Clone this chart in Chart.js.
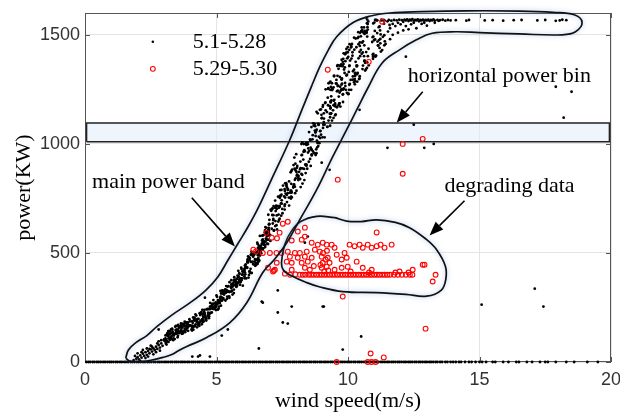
<!DOCTYPE html>
<html>
<head>
<meta charset="utf-8">
<script src="https://cdn.jsdelivr.net/npm/chart.js@4.4.0/dist/chart.umd.min.js"></script>
<style>
  html, body { margin: 0; padding: 0; background: #fff; }
  #wrap { width: 620px; height: 414px; }
</style>
</head>
<body>
<div id="wrap"><canvas id="powerChart" width="620" height="414"></canvas></div>
<script>
// Axes
const xTicks = [0, 5, 10, 15, 20];
const yTicks = [0, 500, 1000, 1500];
const seriesNames = ['5.1-5.28', '5.29-5.30'];

// 5.1-5.28 : wind speed (m/s), power (KW)
const bandLow = [[1.85,8],[1.95,15],[2.0,22],[2.05,12],[2.1,30],[2.15,20],[2.2,38],[2.25,28],[2.3,45],[2.35,33],
  [2.4,50],[2.45,40],[2.5,58],[2.55,48],[2.6,62],[2.65,55],[2.7,70],[2.75,60],[2.8,78],[2.85,66],[2.9,85],[2.95,74],
  [2.2,55],[2.5,75],[2.8,95],[2.4,25],[2.7,45],[2.1,5],[2.6,35],[2.9,100],[2.35,62],[3.1,80],[2.0,40],[2.3,18],
  [2.55,70],[2.85,52],[1.9,28],[2.15,45],[2.45,60],[2.75,85]];

const bandRise = [
  [3.01,98],[3.01,104],[3.09,91],[3.06,108],[3.03,105],[3.18,142],[3.17,142],[3.13,94],[3.13,132],[3.14,120],
  [3.22,127],[3.24,110],[3.23,140],[3.23,102],[3.27,150],[3.35,100],[3.32,148],[3.38,127],[3.31,153],[3.37,108],
  [3.46,165],[3.43,162],[3.49,130],[3.47,141],[3.41,105],[3.55,165],[3.52,113],[3.59,161],[3.54,170],[3.54,139],
  [3.65,177],[3.62,138],[3.6,162],[3.68,129],[3.66,147],[3.7,161],[3.72,175],[3.76,140],[3.71,174],[3.79,185],
  [3.88,172],[3.82,181],[3.8,149],[3.84,182],[3.82,162],[3.93,163],[3.92,143],[3.91,181],[3.9,173],[3.97,196],
  [4.08,158],[4.01,167],[4.07,144],[4.08,187],[4.05,149],[4.13,162],[4.18,166],[4.12,148],[4.16,194],[4.14,199],
  [4.2,218],[4.23,213],[4.24,185],[4.26,159],[4.29,197],[4.35,166],[4.36,224],[4.32,178],[4.33,171],[4.37,182],
  [4.45,195],[4.46,239],[4.44,173],[4.48,183],[4.42,229],[4.54,239],[4.51,186],[4.52,230],[4.55,220],[4.5,192],
  [4.68,226],[4.61,190],[4.62,241],[4.6,196],[4.69,220],[4.78,245],[4.72,209],[4.71,201],[4.75,242],[4.76,271],
  [4.86,246],[4.84,258],[4.82,227],[4.89,249],[4.88,284],[4.95,256],[4.99,253],[4.9,243],[4.98,238],[4.97,273],
  [5.04,267],[5.02,299],[5.08,245],[5.0,305],[5.07,279],[5.16,300],[5.15,326],[5.13,270],[5.14,281],[5.17,258],
  [5.22,327],[5.24,321],[5.25,313],[5.23,328],[5.21,281],[5.33,333],[5.38,331],[5.37,348],[5.34,282],[5.36,319],
  [5.42,346],[5.41,300],[5.4,290],[5.49,294],[5.48,301],[5.54,344],[5.56,339],[5.58,349],[5.57,357],[5.59,325],
  [5.63,348],[5.66,316],[5.64,349],[5.68,371],[5.61,309],[5.74,370],[5.75,355],[5.72,377],[5.76,365],[5.78,349],
  [5.81,362],[5.83,418],[5.84,392],[5.8,396],[5.82,390],[5.9,365],[5.94,432],[5.91,384],[5.92,368],[5.97,383],
  [6.07,384],[6.04,413],[6.08,442],[6.0,350],[6.06,427],[6.1,434],[6.13,383],[6.15,432],[6.18,470],[6.11,447],
  [6.24,480],[6.28,409],[6.25,415],[6.2,484],[6.22,387],[6.39,483],[6.32,493],[6.33,506],[6.31,459],[6.34,408],
  [6.49,444],[6.47,441],[6.45,460],[6.46,472],[6.43,490],[6.57,540],[6.59,478],[6.55,547],[6.5,468],[6.56,449],
  [6.6,469],[6.61,493],[6.63,465],[6.65,503],[6.62,519],[6.74,579],[6.78,521],[6.7,525],[6.76,562],[6.75,515],
  [6.81,539],[6.88,566],[6.82,553],[6.86,618],[6.85,527],[6.99,592],[6.91,585],[6.92,543],[6.96,541],[6.98,589],
  [7.0,586],[6.97,607],[7.04,582],[7.05,555],[7.01,632],[7.12,674],[7.13,705],[7.11,700],[7.08,693],[7.1,611],
  [7.17,715],[7.19,604],[7.25,692],[7.18,602],[7.24,646],[7.35,644],[7.36,676],[7.29,702],[7.28,627],[7.34,758],
  [7.4,657],[7.37,707],[7.38,652],[7.45,727],[7.41,761],[7.44,761],[7.48,726],[7.5,702],[7.47,767],[7.53,809],
  [7.6,723],[7.61,754],[7.63,772],[7.59,793],[7.57,759],[7.65,820],[7.72,791],[7.71,789],[7.66,807],[7.67,766],
  [7.82,870],[7.75,754],[7.76,828],[7.83,785],[7.81,752],[7.92,804],[7.84,758],[7.85,876],[7.88,882],[7.86,777],
  [8.0,909],[7.94,812],[7.97,886],[7.95,814],[7.98,804],[8.05,854],[8.01,878],[8.06,890],[8.07,859],[8.04,785],
  [8.19,919],[8.11,834],[8.12,853],[8.2,889],[8.18,884],[8.27,888],[8.3,928],[8.23,862],[8.25,950],[8.24,948],
  [8.32,999],[8.31,964],[8.33,885],[8.34,971],[8.4,1001],[8.45,886],[8.48,960],[8.42,995],[8.39,903],[8.46,1005],
  [8.49,979],[8.52,1054],[8.51,918],[8.56,931],[8.57,1017],[8.61,1077],[8.62,947],[8.66,1040],[8.65,1021],[8.6,975],
  [8.77,1036],[8.75,1081],[8.73,1091],[8.7,1084],[8.74,1061],[8.86,1092],[8.85,1140],[8.83,984],[8.84,1004],[8.82,1015],
  [8.87,990],[8.88,1087],[8.93,1156],[8.89,1033],[8.94,1027],[9.01,1119],[8.99,1133],[9.0,1117],[9.03,1030],[9.05,1073],
  [9.14,1190],[9.15,1154],[9.13,1187],[9.08,1100],[9.11,1088],[9.24,1177],[9.23,1212],[9.25,1255],[9.22,1078],[9.26,1107],
  [9.34,1165],[9.33,1162],[9.32,1122],[9.35,1261],[9.31,1138],[9.34,1193],[9.39,1278],[9.37,1199],[9.33,1285],[9.35,1138],
  [9.45,1177],[9.47,1313],[9.48,1202],[9.46,1198],[9.43,1154],[9.57,1276],[9.58,1241],[9.62,1267],[9.61,1265],[9.56,1293],
  [9.64,1177],[9.68,1185],[9.7,1359],[9.65,1217],[9.69,1357],[9.79,1358],[9.82,1251],[9.78,1356],[9.81,1249],[9.76,1295],
  [9.84,1254],[9.8,1226],[9.89,1411],[9.85,1341],[9.81,1228],[9.92,1248],[9.93,1418],[9.9,1265],[9.91,1415],[9.96,1234],
  [10.08,1382],[10.04,1248],[10.03,1330],[10.05,1271],[10.07,1275],[10.15,1458],[10.18,1294],[10.13,1391],[10.12,1453],[10.17,1420],
  [10.24,1432],[10.27,1311],[10.23,1282],[10.29,1483],[10.26,1288],[10.37,1325],[10.4,1457],[10.32,1443],[10.34,1319],[10.33,1360],
  [10.46,1509],[10.51,1517],[10.5,1516],[10.49,1493],[10.45,1465],[10.54,1522],[10.59,1510],[10.52,1413],[10.61,1534],[10.57,1359],
  [10.62,1452],[10.71,1509],[10.65,1372],[10.69,1421],[10.64,1518],[10.73,1492],[10.72,1553],[10.78,1436],[10.74,1535],[10.77,1561],
  [10.95,1390],[10.92,1467],[10.94,1489],[10.99,1475],[10.96,1492],[11.03,1479],[11.06,1568],[11.0,1556],[11.04,1400],[11.02,1518],
  [11.14,1451],[11.15,1452],[11.12,1469],[11.1,1567],[11.11,1508],[11.23,1481],[11.24,1502],[11.26,1566],[11.25,1423],[11.22,1520],
  [11.37,1551],[11.36,1568],[11.38,1452],[11.39,1565],[11.43,1458],
  [11.5,1562],[11.52,1515],[11.55,1568],[11.58,1545],[11.6,1530],[11.65,1565],[11.7,1550],[11.75,1568],[11.8,1540],
  [11.85,1566],[11.9,1555],[11.95,1569],[12.0,1548],[12.05,1567],[12.1,1560],[12.15,1570]
];

const bandFill = [
  [3.07,93],[3.075,93],[3.06,122],[3.175,120],[3.176,108],[3.195,129],[3.295,133],[3.26,115],[3.29,117],
  [3.38,128],[3.381,121],[3.365,127],[3.49,133],[3.46,131],[3.495,149],[3.55,145],[3.59,136],[3.57,157],
  [3.695,139],[3.655,158],[3.696,158],[3.795,152],[3.765,173],[3.775,166],[3.85,148],[3.89,165],[3.851,152],
  [3.985,186],[3.995,168],[3.97,166],[4.095,180],[4.065,164],[4.085,158],[4.155,197],[4.17,190],[4.18,165],
  [4.29,182],[4.26,197],[4.291,174],[4.395,221],[4.38,215],[4.39,190],[4.465,188],[4.49,207],[4.475,197],
  [4.57,212],[4.555,205],[4.585,204],[4.68,211],[4.695,242],[4.66,243],[4.77,225],[4.75,253],[4.78,256],
  [4.855,251],[4.86,244],[4.861,265],[4.95,254],[4.98,269],[4.985,261],[5.095,254],[5.09,270],[5.07,272],
  [5.15,294],[5.175,314],[5.151,289],[5.29,309],[5.26,288],[5.255,293],[5.36,328],[5.365,319],[5.395,323],
  [5.45,325],[5.455,348],[5.49,321],[5.59,344],[5.555,323],[5.585,327],[5.675,355],[5.66,332],[5.67,376],
  [5.75,349],[5.785,359],[5.755,344],[5.865,407],[5.875,403],[5.855,368],[5.95,375],[5.975,400],[5.995,402],
  [6.07,422],[6.08,411],[6.06,393],[6.17,459],[6.195,456],[6.171,432],[6.265,475],[6.266,415],[6.255,466],
  [6.38,495],[6.37,460],[6.39,449],[6.455,500],[6.495,454],[6.475,498],[6.58,513],[6.595,510],[6.565,490],
  [6.67,521],[6.655,531],[6.69,512],[6.785,548],[6.78,552],[6.79,549],[6.865,552],[6.885,564],[6.88,595],
  [6.99,615],[6.955,580],[6.975,604]
];

const bandWide = [
  [6.57,456],[6.58,471],[6.585,458],[6.588,466],[6.68,520],[6.65,578],[6.6,502],[6.651,488],
  [6.73,544],[6.731,557],[6.7,499],[6.78,581],[6.84,595],[6.81,537],[6.85,534],[6.86,587],
  [6.92,576],[6.99,630],[6.97,599],[6.971,561],[7.01,652],[6.97,675],[7.0,633],[7.06,698],
  [7.16,656],[7.162,650],[7.14,635],[7.165,673],[7.23,740],[7.231,707],[7.232,623],[7.24,710],
  [7.29,672],[7.27,717],[7.33,715],[7.3,608],[7.4,716],[7.405,712],[7.41,752],[7.42,788],
  [7.48,741],[7.51,682],[7.47,789],[7.46,671],[7.61,819],[7.59,715],[7.591,699],[7.6,784],
  [7.68,733],[7.71,774],[7.66,813],[7.681,800],[7.8,776],[7.83,749],[7.831,782],[7.76,717],
  [7.84,784],[7.841,817],[7.93,903],[7.86,755],[7.99,774],[7.98,835],[7.92,800],[7.96,937],
  [8.07,899],[8.03,953],[8.01,842],[8.04,871],[8.18,839],[8.2,802],[8.11,844],[8.14,872],
  [8.23,999],[8.26,858],[8.27,818],[8.261,1006],[8.36,966],[8.34,834],[8.38,906],[8.39,866],
  [8.42,900],[8.425,905],[8.47,998],[8.41,1003],[8.58,983],[8.52,968],[8.581,899],[8.56,1021],
  [8.62,952],[8.621,973],[8.67,965],[8.68,1094],[8.77,949],[8.76,1052],[8.72,957],[8.78,1057],
  [8.81,1065],[8.8,957],[8.805,1147],[8.79,975],[8.88,1090],[8.94,1058],[8.95,1060],[8.91,1003],
  [9.05,1178],[9.06,1088],[8.97,1158],[8.975,1042],[9.08,1140],[9.11,1030],[9.15,1250],[9.085,1116],
  [9.26,1278],[9.2,1146],[9.25,1252],[9.21,1078],[9.33,1248],[9.32,1083],[9.36,1140],[9.31,1173],
  [9.4,1249],[9.34,1190],[9.39,1107],[9.395,1247],[9.51,1131],[9.515,1178],[9.45,1259],[9.47,1310],
  [9.53,1135],[9.54,1277],[9.61,1244],[9.6,1312],[9.67,1186],[9.64,1344],[9.68,1235],[9.7,1262],
  [9.75,1249],[9.77,1300],[9.775,1276],[9.755,1272],[9.83,1366],[9.81,1192],[9.87,1325],[9.835,1415],
  [9.9,1379],[9.97,1392],[9.94,1313],[9.99,1444],[10.02,1230],[10.06,1457],[10.05,1357],[10.01,1399],
  [10.1,1293],[10.17,1404],[10.11,1442],[10.13,1445],[10.26,1273],[10.265,1322],[10.255,1297],[10.23,1340],
  [10.33,1355],[10.4,1392],[10.37,1485],[10.35,1285],[10.42,1297],[10.49,1431],[10.44,1300],[10.46,1402],
  [10.61,1402],[10.55,1515],[10.54,1464],[10.57,1470],[10.62,1380],[10.71,1517],[10.68,1341],[10.685,1512],
  [10.75,1524],[10.73,1374],[10.755,1402],[10.72,1348]
];

const bandDense = [
  [3.075,84],[3.095,100],[3.125,127],[3.175,92],[3.295,106],[3.225,130],[3.345,125],[3.335,138],[3.445,147],[3.405,130],
  [3.575,132],[3.535,120],[3.665,172],[3.668,168],[3.775,168],[3.725,131],[3.895,156],[3.815,137],[3.915,163],[3.918,172],
  [4.095,163],[4.085,167],[4.165,203],[4.115,205],[4.205,172],[4.255,193],[4.315,198],[4.318,169],[4.485,217],[4.455,220],
  [4.545,223],[4.535,227],[4.675,215],[4.615,202],[4.715,219],[4.755,224],[4.835,266],[4.895,267],[4.985,260],[4.945,244],
  [5.055,240],[5.058,283],[5.195,296],[5.135,294],[5.295,317],[5.275,321],[5.305,325],[5.385,322],[5.445,323],[5.495,366],
  [5.565,375],[5.595,358],[5.675,389],[5.645,364],[5.785,382],[5.745,362],[5.855,377],[5.895,354],[5.955,426],[5.985,415],
  [6.095,402],[6.015,415],[6.135,435],[6.185,462],[6.295,427],[6.235,399],[6.305,491],[6.385,487],[6.495,470],[6.415,448],
  [6.575,523],[6.535,505],[6.615,532],[6.685,504],[6.715,537],[6.745,518],[6.845,603],[6.895,615],[6.925,560],[6.995,602]
];

const bandTop = [
  [9.402,1252],[9.36,1218],[9.345,1196],[9.512,1172],[9.45,1119],[9.508,1185],[9.59,1357],[9.61,1361],[9.58,1168],
  [9.72,1243],[9.69,1307],[9.71,1171],[9.76,1251],[9.74,1364],[9.75,1296],[9.82,1390],[9.88,1351],[9.89,1279],
  [9.99,1420],[9.94,1435],[9.96,1317],[10.06,1359],[10.01,1228],[10.05,1431],[10.12,1248],[10.19,1333],[10.185,1309],
  [10.23,1487],[10.28,1325],[10.29,1376],[10.4,1490],[10.39,1512],[10.35,1358],[10.445,1310],[10.45,1449],[10.44,1422],
  [10.52,1534],[10.56,1419],[10.55,1343],[10.63,1504],[10.65,1336],[10.635,1382],[10.75,1549],[10.73,1570],[10.79,1360],
  [10.96,1552],[10.94,1409],[10.965,1412],[11.045,1405],[11.03,1568],[11.07,1404],[11.11,1566],[11.18,1476],[11.17,1535],
  [11.27,1569],[11.23,1461],[11.2,1538],[11.38,1498],[11.32,1567],[11.325,1491]
];

const plateau = [[12.2,1566],[12.25,1571],[12.3,1563],[12.35,1569],[12.4,1566],[12.45,1572],[12.5,1564],[12.55,1568],[12.6,1566],
  [12.65,1571],[12.7,1562],[12.75,1568],[12.8,1566],[12.85,1570],[12.9,1564],[12.95,1568],[13.0,1566],[13.05,1570],[13.1,1563],
  [13.15,1568],[13.2,1566],[13.25,1571],[13.3,1565],[13.4,1568],[13.45,1564],[13.5,1567],[13.6,1569],[13.7,1565],[13.8,1568],
  [13.9,1566],[14.1,1567],[14.5,1565],[14.6,1568],[15.2,1566],[15.5,1567],[15.9,1565],[16.3,1567],[16.6,1568],[17.2,1566],
  [17.5,1568],[17.9,1564],[18.05,1566],[18.15,1569],[18.3,1567],
  [12.2,1540],[12.4,1548],[12.6,1530],[12.8,1550],[13.0,1542],[12.3,1525],[12.9,1555],[11.9,1510],[12.1,1520],[11.7,1500],
  [11.4,1470],[11.6,1480],[11.2,1440],[12.5,1555],[13.3,1555],[11.3,1430],[10.95,1400]];

const blackOutliers = [[10.7,1578],[9.8,1376],[10.44,1156],[12.2,1400],[17.9,1262],[18.5,1239],[18.2,1120],[12.5,1088],
  [11.5,982],[12.9,982],[13.26,1000],[9.0,914],[9.3,881],[9.08,254],[10.5,117],[9.8,57],[15.08,263],[17.1,336],[17.43,254],
  [7.33,328],[6.76,272],[7.33,227],[7.86,254],[7.71,176],[6.61,62],[5.2,121],[5.43,149],[4.37,30],[4.08,25],[8.47,575],
  [8.36,547],[9.04,254],[4.3,25],[4.75,25],[2.8,149],[4.56,295],[7.52,181],[6.72,277],[9.76,1386],[9.3,1280],[9.04,1170]];

// power = 0 records
const zeroSpeeds = [0.05,0.13,0.2,0.29,0.36,0.45,0.52,0.6,0.69,0.76,0.85,0.93,1.0,1.08,1.17,1.24,1.33,1.4,1.49,1.56,1.64,1.73,
  1.8,1.88,1.97,2.04,2.12,2.21,2.28,2.37,2.44,2.52,2.61,2.68,2.77,2.84,2.92,3.01,3.08,3.16,3.25,3.32,3.41,3.48,3.56,3.65,3.72,
  3.8,3.89,3.96,4.05,4.12,4.2,4.29,4.36,4.44,4.53,4.6,4.69,4.76,4.84,4.93,5.0,5.09,5.16,5.24,5.33,5.4,5.48,5.57,5.64,5.73,5.8,
  5.88,5.97,6.04,6.12,6.21,6.28,6.37,6.44,6.52,6.61,6.68,6.76,6.85,6.92,7.01,7.08,7.16,7.25,7.32,7.4,7.49,7.56,7.65,7.72,7.8,
  7.89,7.96,8.04,8.13,8.2,8.29,8.36,8.44,8.53,8.6,8.69,8.76,8.84,8.93,9.0,9.09,9.16,9.24,9.33,9.4,9.48,9.57,9.64,9.73,9.8,9.88,
  9.97,10.04,10.12,10.21,10.28,10.37,10.44,10.52,10.61,10.68,10.76,10.85,10.92,11.01,11.08,11.16,11.25,11.32,11.4,11.49,11.56,
  11.65,11.72,11.8,11.89,11.96,12.04,12.13,12.2,12.29,12.36,12.44,12.53,12.6,12.69,12.76,12.84,12.93,13.0,13.09,13.16,13.24,
  13.33,13.4,13.5,13.58,13.7,13.78,13.9,14.0,14.1,14.22,14.3,14.45,14.6,14.7,14.85,15.0,15.1,15.25,15.5,15.6,15.9,16.1,16.4,
  16.5,16.8,17.0,17.3,17.5,17.6,17.9,18.3,18.6,19.1,19.5];

// 5.29-5.30
const redScatter = [[11.3,1560],[9.23,1340],[10.79,1376],[9.61,836],[12.08,1000],[12.84,1023],[12.08,863],[11.09,594],
  [12.91,446],[13.33,400],[13.22,369],[9.8,300],[12.95,153],[10.86,39],[11.36,21],[9.57,0],[10.75,0],[10.9,0],[11.05,0]];

const redCluster = [[6.9,593],[6.5,507],[6.4,515],[6.76,500],[7.03,500],[7.28,500],[7.47,500],[6.96,432],[7.18,419],[7.52,634],
  [7.71,643],[7.4,593],[7.1,570],[7.3,567],[7.86,557],[8.09,598],[8.24,561],[8.36,575],[8.36,616],[8.62,547],[8.85,538],
  [9.04,547],[9.19,538],[9.38,538],[9.49,524],[8.93,506],[8.74,515],[8.43,506],[8.17,500],[7.98,500],[7.71,506],
  [7.79,483],[8.09,478],[8.36,483],[8.62,478],[9.0,483],[9.23,478],[9.57,492],[9.87,500],[9.95,478],[9.76,470],[9.3,455],
  [9.04,455],[8.47,460],[8.24,455],[7.86,455],[7.67,460],[7.29,455],[7.22,423],[7.86,423],[8.36,432],[8.55,423],[9.0,432],
  [9.19,437],[9.49,423],[9.76,432],[9.99,437],[10.33,460],[10.56,432],[10.9,423],[10.06,538],[10.25,531],[10.44,538],
  [10.56,524],[10.75,538],[10.9,524],[11.09,531],[11.24,538],[11.39,524],[11.66,538],[12.84,446],[12.46,423],[11.96,415],
  [7.15,415],[9.1,415],[9.25,420],[8.95,445],[9.15,470],[9.05,500],[9.2,510],[8.7,440],[10.1,415],[10.8,410],[12.3,410],[11.8,410]];

const redRow = [[7.6,405],[7.8,400],[8.0,402],[8.17,400],[8.28,400],[8.38,400],[8.5,400],[8.6,400],[8.7,400],[8.8,400],
  [8.9,400],[9.0,400],[9.1,400],[9.2,400],[9.3,400],[9.4,400],[9.5,400],[9.6,400],[9.7,400],[9.8,400],[9.9,400],[10.0,400],
  [10.1,400],[10.2,400],[10.3,400],[10.4,400],[10.5,400],[10.6,400],[10.7,400],[10.8,400],[10.9,400],[11.0,400],[11.1,400],
  [11.2,400],[11.3,400],[11.4,400],[11.5,400],[11.6,400],[11.75,400],[11.9,400],[12.05,400],[12.2,400],[12.35,400],[12.45,400]];

// hand-drawn region outlines (data units)
const mainBandOutline = [[1.55,18],[1.65,55],[1.95,90],[2.34,120],[2.73,162],[3.3,215],[4.0,272],[4.6,330],[5.05,390],
  [5.45,470],[5.8,540],[6.2,620],[6.6,710],[7.14,850],[7.79,1019],[8.25,1157],[8.6,1260],[8.93,1354],[9.25,1430],[9.57,1491],
  [10.18,1555],[10.82,1585],[11.6,1600],[12.8,1606],[14.5,1610],[16.5,1609],[17.8,1603],[18.6,1592],[18.9,1558],[18.65,1514],
  [18.15,1500],[16.5,1504],[15.0,1510],[14.1,1514],[13.2,1507],[12.6,1477],[11.96,1431],[11.3,1371],[10.75,1255],[10.35,1160],
  [9.95,1065],[9.42,941],[8.81,790],[8.17,653],[7.67,547],[7.2,470],[6.76,410],[6.15,272],[5.51,181],[4.63,112],[3.87,71],
  [3.55,52],[3.3,34],[2.96,21],[2.5,8],[2.1,2],[1.7,4],[1.55,18]];

const degradingOutline = [[9.5,662],[9.95,646],[10.5,644],[11.09,652],[11.8,640],[12.34,616],[12.95,565],[13.37,515],
  [13.7,440],[13.72,380],[13.55,330],[12.99,302],[12.2,310],[11.09,318],[9.8,323],[8.9,345],[8.43,364],[7.85,395],[7.55,420],
  [7.47,455],[7.6,540],[7.85,600],[8.2,644],[8.81,668],[9.5,662]];

const binOutline = [[0.06,1010],[19.94,1010],[19.94,1096],[0.06,1096],[0.06,1010]];

// annotation texts and arrows (data units)
const labels = [
  { text: 'main power band', x: 0.27, y: 822 },
  { text: 'horizontal power bin', x: 12.27, y: 1308 },
  { text: 'degrading data', x: 13.67, y: 804 }
];
const arrows = [
  { from: [4.06, 753], to: [5.7, 529] },
  { from: [12.84, 1239], to: [11.85, 1097] },
  { from: [14.43, 739], to: [13.1, 580] }
];

const serif = '"Liberation Serif", "Times New Roman", serif';
const sans = '"Liberation Sans", Arial, sans-serif';

const overlay = {
  id: 'overlay',
  beforeDatasetsDraw(chart) {
    const { ctx, chartArea: a, scales: { x, y } } = chart;
    ctx.save();
    ctx.strokeStyle = '#555';
    ctx.lineWidth = 1;
    ctx.strokeRect(a.left + 0.5, a.top + 0.5, a.right - a.left - 1, a.bottom - a.top - 1);
    ctx.beginPath();
    xTicks.forEach(v => {
      const px = Math.round(x.getPixelForValue(v)) + 0.5;
      ctx.moveTo(px, a.bottom); ctx.lineTo(px, a.bottom - 5);
      ctx.moveTo(px, a.top); ctx.lineTo(px, a.top + 5);
    });
    yTicks.forEach(v => {
      const py = Math.round(y.getPixelForValue(v)) + 0.5;
      ctx.moveTo(a.left, py); ctx.lineTo(a.left + 5, py);
      ctx.moveTo(a.right, py); ctx.lineTo(a.right - 5, py);
    });
    ctx.stroke();
    ctx.restore();
  },
  beforeDatasetDraw(chart, args) {
    if (chart.data.datasets[args.index].glow) {
      chart.ctx.save();
      chart.ctx.shadowColor = 'rgba(110,150,220,0.6)';
      chart.ctx.shadowBlur = 5;
    }
  },
  afterDatasetDraw(chart, args) {
    if (chart.data.datasets[args.index].glow) chart.ctx.restore();
  },
  afterDraw(chart) {
    const { ctx, scales: { x, y } } = chart;
    ctx.save();
    ctx.fillStyle = '#000';
    ctx.strokeStyle = '#000';
    ctx.font = '22px ' + serif;
    ctx.textBaseline = 'middle';

    // legend
    const lx = x.getPixelForValue(2.58);
    const tx = x.getPixelForValue(4.1);
    const ly1 = y.getPixelForValue(1468);
    const ly2 = y.getPixelForValue(1344);
    ctx.beginPath(); ctx.arc(lx, ly1, 1.3, 0, Math.PI * 2); ctx.fill();
    ctx.strokeStyle = '#ff0000'; ctx.lineWidth = 1.1;
    ctx.beginPath(); ctx.arc(lx, ly2, 2.4, 0, Math.PI * 2); ctx.stroke();
    ctx.fillText(seriesNames[0], tx, ly1);
    ctx.fillText(seriesNames[1], tx, ly2);

    labels.forEach(l => ctx.fillText(l.text, x.getPixelForValue(l.x), y.getPixelForValue(l.y)));

    ctx.strokeStyle = '#000';
    ctx.lineWidth = 1.6;
    arrows.forEach(ar => {
      const x1 = x.getPixelForValue(ar.from[0]), y1 = y.getPixelForValue(ar.from[1]);
      const x2 = x.getPixelForValue(ar.to[0]), y2 = y.getPixelForValue(ar.to[1]);
      const ang = Math.atan2(y2 - y1, x2 - x1);
      const len = 14, half = 5.5;
      const bx = x2 - len * Math.cos(ang), by = y2 - len * Math.sin(ang);
      ctx.beginPath(); ctx.moveTo(x1, y1); ctx.lineTo(bx, by); ctx.stroke();
      ctx.beginPath();
      ctx.moveTo(x2, y2);
      ctx.lineTo(bx + half * Math.sin(ang), by - half * Math.cos(ang));
      ctx.lineTo(bx - half * Math.sin(ang), by + half * Math.cos(ang));
      ctx.closePath(); ctx.fill();
    });
    ctx.restore();
  }
};

const blackPoints = [...bandLow, ...bandRise, ...bandFill, ...bandWide, ...bandDense, ...bandTop, ...plateau,
  ...blackOutliers, ...zeroSpeeds.map(v => [v, 0])];
const redPoints = [...redScatter, ...redCluster, ...redRow];

const outlineStyle = {
  showLine: true, pointRadius: 0, borderColor: '#111', borderWidth: 1.7, tension: 0.4,
  fill: false, clip: false, capBezierPoints: false, glow: true
};

new Chart(document.getElementById('powerChart'), {
  type: 'scatter',
  data: {
    datasets: [
      { label: 'main power band', data: mainBandOutline, order: 0, ...outlineStyle },
      { label: 'degrading data', data: degradingOutline, order: 0, ...outlineStyle },
      { label: seriesNames[1], data: redPoints, order: 1, pointRadius: 2.4, pointBorderWidth: 1.1,
        pointBorderColor: '#ff0000', pointBackgroundColor: 'rgba(0,0,0,0)', clip: false },
      { label: seriesNames[0], data: blackPoints, order: 2, pointRadius: 1.4, pointBorderWidth: 0,
        pointBackgroundColor: '#000', clip: false },
      { label: 'horizontal power bin', data: binOutline, order: 3, showLine: true, pointRadius: 0, tension: 0,
        borderColor: '#222', borderWidth: 1.5, fill: 'shape', backgroundColor: 'rgba(226,236,250,0.55)', clip: false }
    ]
  },
  options: {
    responsive: false,
    animation: false,
    events: [],
    layout: { padding: { left: 0, right: 9, top: 13, bottom: 0 } },
    plugins: { legend: { display: false }, tooltip: { enabled: false } },
    scales: {
      x: {
        type: 'linear', min: 0, max: 20,
        afterBuildTicks: s => { s.ticks = xTicks.map(v => ({ value: v })); },
        afterFit: s => { s.height = 52; s.paddingLeft = 0; s.paddingRight = 0; },
        ticks: { font: { family: sans, size: 18 }, color: '#333', padding: 7, maxRotation: 0, callback: v => String(v) },
        grid: { color: '#e4e4e4', drawTicks: false },
        border: { display: false },
        title: { display: true, text: 'wind speed(m/s)', color: '#000', font: { family: serif, size: 22 }, padding: { top: 0, bottom: 0 } }
      },
      y: {
        type: 'linear', min: 0, max: 1600,
        afterBuildTicks: s => { s.ticks = yTicks.map(v => ({ value: v })); },
        afterFit: s => { s.width = 85; s.paddingTop = 0; s.paddingBottom = 0; },
        ticks: { font: { family: sans, size: 18 }, color: '#333', padding: 5, callback: v => String(v) },
        grid: { color: '#e4e4e4', drawTicks: false },
        border: { display: false },
        title: { display: true, text: 'power(KW)', color: '#000', font: { family: serif, size: 22 }, padding: { top: 11, bottom: 0 } }
      }
    }
  },
  plugins: [overlay]
});
</script>
</body>
</html>
